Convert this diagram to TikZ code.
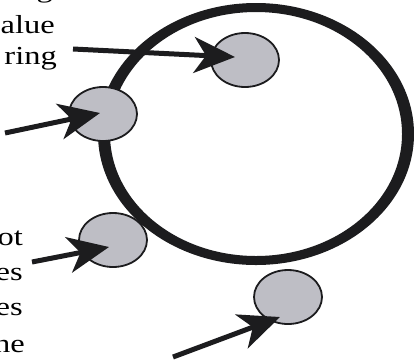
\documentclass[tikz,border=0pt]{standalone}
\usepackage{fontspec}
\setmainfont{Liberation Serif}
\usetikzlibrary{arrows.meta,shapes.geometric}
\definecolor{dotgray}{RGB}{190,190,197}
\definecolor{ink}{RGB}{28,28,30}
\begin{document}
\begin{tikzpicture}[x=1pt,y=-1pt,
  dot/.style={ellipse,draw=ink,line width=1.8pt,fill=dotgray,minimum width=68pt,minimum height=54pt,inner sep=0pt},
  pointer/.style={draw=ink,line width=5pt,-{Stealth[length=41pt,width=36pt,inset=12pt]}},
  lbl/.style={anchor=base east,inner sep=0pt,font=\fontsize{26}{30}\selectfont}]
\useasboundingbox (0,0) rectangle (414,360);
\clip (0,0) rectangle (414,360);
% big ring (thicker at the sides, thinner at top and bottom, as in the stretched original)
\fill[ink,even odd rule] (256,134) ellipse [x radius=158pt, y radius=131pt]
                         (256,134) ellipse [x radius=146pt, y radius=122pt];
% small circles
\node[dot] (c1) at (245,60) {};
\node[dot] (c2) at (103,114) {};
\node[dot] (c3) at (113,240) {};
\node[dot] (c4) at (288,297) {};
% labels (cut off at the left edge, as in the reference)
\node[lbl] (l0) at (53,-3) {\scalebox{1.25}[1]{g}};
\node[lbl] (l1) at (55,33) {\scalebox{1.25}[1]{alue}};
\node[lbl] (l2) at (57,64) {\scalebox{1.25}[1]{ring}};
\node[lbl] (l3) at (23,245) {\scalebox{1.25}[1]{ot}};
\node[lbl] (l4) at (23,280) {\scalebox{1.25}[1]{es}};
\node[lbl] (l5) at (23,315) {\scalebox{1.25}[1]{es}};
\node[lbl] (l6) at (25,352) {\scalebox{1.25}[1]{ne}};
% arrow ends
\coordinate (s1) at (73,49);  \coordinate (t1) at (235,57);
\coordinate (s2) at (5,133);  \coordinate (t2) at (100,113);
\coordinate (s3) at (32,262); \coordinate (t3) at (109,247);
\coordinate (s4) at (173,357); \coordinate (t4) at (280,317);
\draw[pointer] (s1) -- (t1);
\draw[pointer] (s2) -- (t2);
\draw[pointer] (s3) -- (t3);
\draw[pointer] (s4) -- (t4);
\end{tikzpicture}
\end{document}
